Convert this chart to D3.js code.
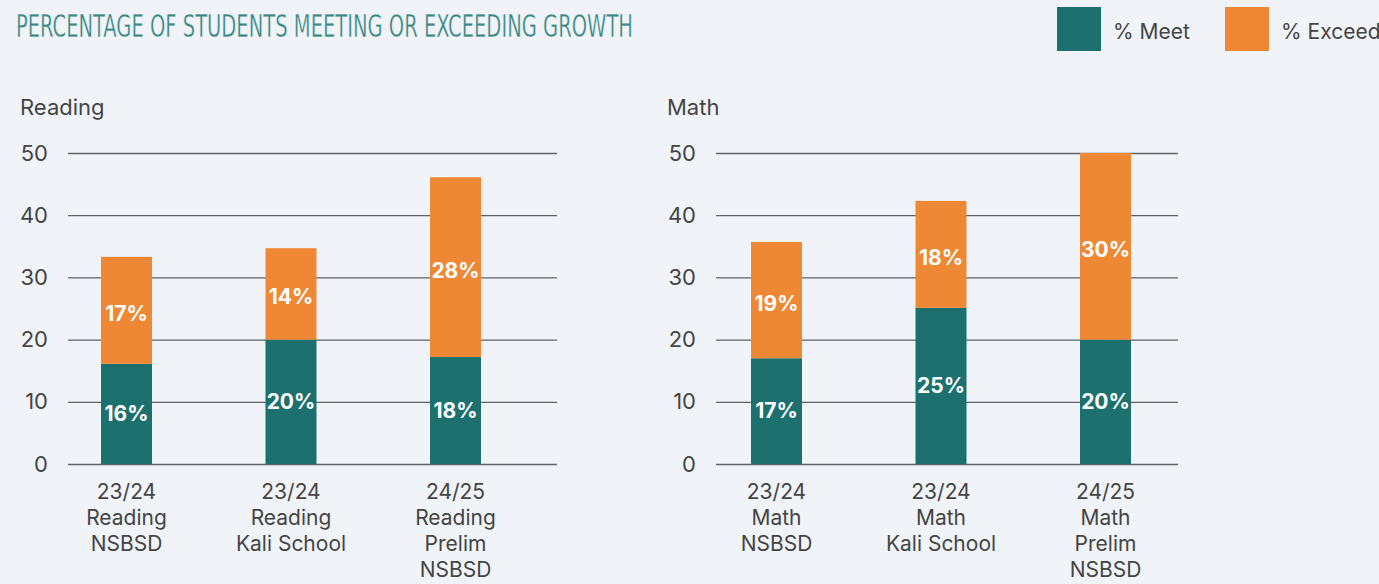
<!DOCTYPE html>
<html lang="en">
<head>
    <meta charset="UTF-8">
    <title>Percentage of Students Meeting or Exceeding Growth</title>
    <script src="https://d3js.org/d3.v7.min.js"></script>
    <style>
        body {
            margin: 0;
            background: #f0f4f8;
            font-family: Inter, "Noto Sans", sans-serif;
        }
        svg {
            display: block;
        }
    </style>
</head>
<body>
    <div id="container"></div>

    <script>
        // data
        const readingCategories = ["23/24|Reading|NSBSD", "23/24|Reading|Kali School", "24/25|Reading|Prelim|NSBSD"];
        const readingMeet = [16.1, 20, 17.2];
        const readingExceed = [17.2, 14.7, 28.9];
        const readingMeetLabels = ["16%", "20%", "18%"];
        const readingExceedLabels = ["17%", "14%", "28%"];

        const mathCategories = ["23/24|Math|NSBSD", "23/24|Math|Kali School", "24/25|Math|Prelim|NSBSD"];
        const mathMeet = [17, 25.1, 20];
        const mathExceed = [18.7, 17.2, 30];
        const mathMeetLabels = ["17%", "25%", "20%"];
        const mathExceedLabels = ["19%", "18%", "30%"];

        const yTicks = [0, 10, 20, 30, 40, 50];
        const seriesNames = ["% Meet", "% Exceed"];

        const meetColor = "#1c716f";
        const exceedColor = "#ef8834";
        const textColor = "#444";
        const bgColor = "#f0f4f8";

        const width = 1379, height = 584;

        const svg = d3.select('#container').append('svg')
            .attr('width', width)
            .attr('height', height);

        // title (thin condensed look: narrow font, slightly thinned with a background stroke)
        svg.append('text')
            .attr('x', 16)
            .attr('y', 37)
            .attr('fill', '#3a8783')
            .attr('stroke', bgColor)
            .attr('stroke-width', 0.35)
            .attr('font-family', '"Liberation Sans Narrow", "DejaVu Sans Condensed", sans-serif')
            .attr('font-size', 32.5)
            .attr('textLength', 617)
            .attr('lengthAdjust', 'spacingAndGlyphs')
            .text('PERCENTAGE OF STUDENTS MEETING OR EXCEEDING GROWTH');

        // legend
        const legendX = [1057, 1225];
        const legendColors = [meetColor, exceedColor];
        seriesNames.forEach((name, i) => {
            svg.append('rect')
                .attr('x', legendX[i])
                .attr('y', 7)
                .attr('width', 44)
                .attr('height', 44)
                .attr('fill', legendColors[i]);
            svg.append('text')
                .attr('x', legendX[i] + 56)
                .attr('y', 39)
                .attr('fill', textColor)
                .attr('font-size', 21)
                .text(name);
        });

        function drawPanel(opts) {
            const g = svg.append('g');

            const y = d3.scaleLinear()
                .domain([0, 50])
                .range([464, 153]);

            const x = d3.scaleBand()
                .domain(opts.categories)
                .range(opts.bandRange)
                .paddingInner(0.69)
                .paddingOuter(0.345);

            // panel title
            g.append('text')
                .attr('x', opts.titleX)
                .attr('y', 115)
                .attr('fill', textColor)
                .attr('font-size', 22)
                .text(opts.title);

            // gridlines + y labels
            const yAxis = d3.axisLeft(y)
                .tickValues(yTicks)
                .tickSize(-(opts.gridRange[1] - opts.gridRange[0]))
                .tickPadding(20);

            const axisG = g.append('g')
                .attr('transform', `translate(${opts.gridRange[0]},0)`)
                .call(yAxis);
            axisG.select('.domain').remove();
            axisG.selectAll('.tick line')
                .attr('stroke', '#5f6266')
                .attr('stroke-width', 1.3);
            axisG.selectAll('.tick text')
                .attr('fill', textColor)
                .attr('font-size', 22)
                .attr('font-family', 'Inter, sans-serif');

            const rows = opts.categories.map((c, i) => ({
                cat: c,
                meet: opts.meet[i],
                exceed: opts.exceed[i],
                meetLabel: opts.meetLabels[i],
                exceedLabel: opts.exceedLabels[i]
            }));

            // meet bars
            g.selectAll('.meet')
                .data(rows)
                .enter()
                .append('rect')
                .attr('x', d => x(d.cat))
                .attr('y', d => y(d.meet))
                .attr('width', x.bandwidth())
                .attr('height', d => y(0) - y(d.meet))
                .attr('fill', meetColor);

            // exceed bars stacked on top
            g.selectAll('.exceed')
                .data(rows)
                .enter()
                .append('rect')
                .attr('x', d => x(d.cat))
                .attr('y', d => y(d.meet + d.exceed))
                .attr('width', x.bandwidth())
                .attr('height', d => y(d.meet) - y(d.meet + d.exceed))
                .attr('fill', exceedColor);

            // segment labels
            g.selectAll('.meetLabel')
                .data(rows)
                .enter()
                .append('text')
                .attr('x', d => x(d.cat) + x.bandwidth() / 2)
                .attr('y', d => (y(0) + y(d.meet)) / 2)
                .attr('dy', '0.34em')
                .attr('text-anchor', 'middle')
                .attr('fill', 'white')
                .attr('font-weight', 'bold')
                .attr('font-size', 21)
                .text(d => d.meetLabel);

            g.selectAll('.exceedLabel')
                .data(rows)
                .enter()
                .append('text')
                .attr('x', d => x(d.cat) + x.bandwidth() / 2)
                .attr('y', d => (y(d.meet) + y(d.meet + d.exceed)) / 2)
                .attr('dy', '0.5em')
                .attr('text-anchor', 'middle')
                .attr('fill', 'white')
                .attr('font-weight', 'bold')
                .attr('font-size', 21)
                .text(d => d.exceedLabel);

            // category labels, multi-line
            const catText = g.selectAll('.cat')
                .data(rows)
                .enter()
                .append('text')
                .attr('text-anchor', 'middle')
                .attr('fill', textColor)
                .attr('font-size', 21);

            catText.selectAll('tspan')
                .data(d => d.cat.split('|').map(line => ({ line: line, cx: x(d.cat) + x.bandwidth() / 2 })))
                .enter()
                .append('tspan')
                .attr('x', d => d.cx)
                .attr('y', (d, i) => 499 + i * 26)
                .text(d => d.line);
        }

        drawPanel({
            title: 'Reading',
            titleX: 20,
            categories: readingCategories,
            meet: readingMeet,
            exceed: readingExceed,
            meetLabels: readingMeetLabels,
            exceedLabels: readingExceedLabels,
            gridRange: [68, 557],
            bandRange: [44.25, 537.75]
        });

        drawPanel({
            title: 'Math',
            titleX: 667,
            categories: mathCategories,
            meet: mathMeet,
            exceed: mathExceed,
            meetLabels: mathMeetLabels,
            exceedLabels: mathExceedLabels,
            gridRange: [716, 1178],
            bandRange: [694.25, 1187.75]
        });
    </script>
</body>
</html>
